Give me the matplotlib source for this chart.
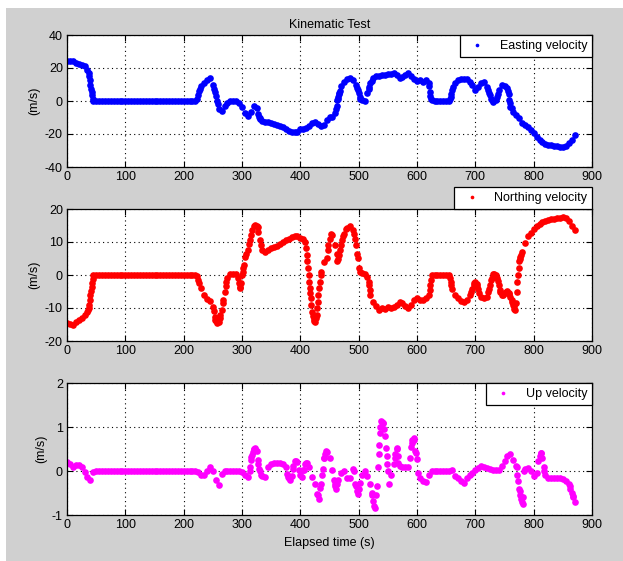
import numpy as np
import matplotlib
matplotlib.use("Agg")
import matplotlib.pyplot as plt
from matplotlib.patches import Rectangle

# sample times (s), one reading every 5 s
time_s = np.arange(0, 875, 5)

east = [24.5, 24.3, 24, 23, 22.3, 22, 21.5, 19, 10, 0] + [0] * 35 + [
    3.7, 9, 11, 13, 14, 10, 3, -5, -6, -3, -1, 0, 0, 0, -1.3, -3.4, -7, -9, -6.5, -3.3,
    -4.4, -10.4, -12.4, -12.8, -13, -13.4, -13.8, -14.4, -15, -15.8, -17, -17.9, -18.5, -18.7, -18.5,
    -17, -16.8, -16.2, -15, -13.5, -12.6, -14, -15.4, -14.4, -11.4, -9.8, -9.4, -7.2, 2.5, 8.8,
    11.8, 13.2, 14, 12.8, 9.8, 4.6, 0.6, 0.2, 4.6, 10.7, 14, 15, 15, 15.6, 16, 16.2, 16.5, 16.7,
    15.6, 13.7, 14.4, 15.7, 16.7, 15.1, 13.1, 12.3, 12.7, 11.7, 12.7, 10.7, 0.6] + [0] * 6 + [
    6.7, 10.7, 12.7, 13.2, 13.3, 13.1, 11.7, 9.7, 6.7, 8.7, 11.1, 11.7, 8.7, 3.6, -0.4, 0.6,
    6.7, 9.7, 9.1, 7.7, -3.4, -6.5, -8.5, -10.5, -13.1, -14.5, -15.9, -17.5, -19.5, -21.9,
    -23.9, -25, -25.9, -26.5, -26.9, -27.1, -27.5, -28, -28, -27.1, -25.5, -23.5, -20.5]

# extra readings on the steep parts
east_xt = [37, 38, 39, 41, 42, 43, 44, 222, 227, 228, 252, 253, 257, 258, 328, 329, 331,
           461, 462, 463, 464, 466, 467, 468, 497, 498, 502, 503, 517, 518, 522,
           621, 622, 623, 624, 657, 658, 659, 662, 722, 723, 727, 728, 737, 738,
           756, 757, 758, 759, 762]
east_xv = [17, 15, 12.5, 7.5, 5.5, 3.7, 1.5, 1, 6, 7.5, 7, 5.5, 0, -2, -8, -9.5, -11,
           -5, -3, 0.5, 1.5, 4, 4.7, 6, 8, 6.5, 2.5, 1.5, 7, 8.5, 12,
           9, 5.7, 3, 1.5, 1.2, 2.6, 4.5, 8.5, 6.5, 5, 1.5, 0.5, 2.5, 4.5,
           6, 4, 0.6, -1.5, -4.5]

north = [-14.6, -14.9, -15, -14.1, -13.6, -13.1, -12.1, -11.1, -6, 0] + [0] * 35 + [
    -1.5, -4, -6, -7.2, -8, -9.6, -13.8, -14.1, -10.5, -5, -1, 0.2, 0.2, 0.2, -2.5, 0, 5.6,
    7.6, 12.2, 14.8, 14.8, 10.7, 7.6, 7.1, 7.6, 8.2, 8.5, 8.9, 9.4, 10, 10.5, 11, 11.5, 11.9,
    11.7, 11.2, 10.8, 8.2, -2, -11.2, -14.1, -8.1, 0, 3.9, 5.1, 11, 12, 9.2, 5, 9.2, 12.5,
    14.2, 14.8, 13.5, 9.2, 2, 0.5, 0.2, -0.5, -6.1, -8.1, -9.3, -10.7, -9.9, -10.3, -9.6,
    -10.1, -9.6, -9.1, -8.1, -8.6, -9.3, -9.9, -9.1, -7.5, -7.0, -7.5, -7.5, -7.0, -6, 0] + [0] * 6 + [
    -4.1, -6.1, -7.1, -7.9, -8.3, -7.6, -6, -4.1, -2.2, -4.1, -6.6, -7.1, -6.6, -3, 0.2, 0,
    -3, -6.1, -5.6, -4.9, -6.6, -9.1, -8.5, 4.1, 7.1, 9.7, 11.7, 12.7, 13.8, 14.8, 15.5,
    16.1, 16.5, 16.8, 17, 17.1, 17.3, 17.3, 17.7, 17.3, 16.3, 14.8, 13.5]

north_xt = [36, 37, 38, 39, 41, 42, 43, 44, 222, 227, 252, 253, 254, 257, 262, 263, 267, 268,
            272, 273, 293, 296, 297, 298, 301, 302, 303, 307, 312, 313, 317, 322, 327, 328, 332,
            408, 411, 412, 413, 414, 416, 417, 418, 419, 422, 423, 424, 427, 428, 429, 431,
            432, 433, 436, 447, 448, 452, 462, 463, 466, 468, 472, 473, 478, 492, 493, 497,
            498, 502, 517, 518, 519, 622, 623, 624, 657, 658, 659,
            692, 697, 698, 702, 703, 707, 722, 723, 727, 728, 732, 737, 738, 742, 743, 747,
            752, 757, 758, 762, 763,
            766, 767, 768, 771, 772, 773, 774, 776, 777, 778]
north_xv = [-10.5, -10, -9.1, -7.5, -4.8, -3.5, -2.5, -1.2, -0.3, -2.5, -11, -12.6, -13.5,
            -14.6, -13, -12.1, -8.6, -7.5, -3.2, -2, -1, -3.5, -3.8, -2.5, 1, 2, 3, 6.5, 9.5,
            10.6, 13.7, 15.2, 14.4, 13, 9,
            10, 6, 4.1, 2, 0, -4, -5.5, -7.1, -9.2, -12.5, -13.3, -14, -13, -12.2, -10, -6,
            -4, -2, 1, 7.5, 9.2, 12.4, 6.5, 4.1, 6.1, 7.5, 10.5, 11.7, 13.8, 12.3, 11, 6.5,
            5.1, 1, -2, -3, -4.5, -4.5, -3, -1.5, -1, -2, -3,
            -5.3, -3, -2.5, -2.8, -3.3, -5.5, -5, -4.2, -1.5, -0.8, 0.3, -1, -1.8, -4.5, -5.2,
            -6, -5.3, -5.5, -5.8, -7.5, -8.3,
            -9.5, -10.2, -10.7, -5, -2, 0, 2, 5, 5.6, 6.1]

up = [0.2, 0.15, 0.1, 0.13, 0.13, 0.1, -0.02, -0.14, -0.2, -0.03] + [0] * 35 + [
    -0.02, -0.08, -0.1, 0, 0.09, 0, -0.2, -0.32, -0.06, 0, 0, 0, 0, 0, 0, -0.02, -0.1, -0.14,
    0.24, 0.5, 0.45, 0, -0.12, -0.13, 0.09, 0.17, 0.18, 0.18, 0.18, 0.17, 0.1, -0.17, -0.12,
    0.23, 0.2, -0.1, 0.02, 0.18, 0.08, -0.14, -0.3, -0.55, -0.3, 0.3, 0.43, 0.3, 0.02, -0.35,
    -0.2, -0.05, 0, -0.15, -0.15, 0.05, -0.35, -0.4, -0.1, 0, -0.12, -0.3, -0.68, -0.55, 0.6,
    1.12, 0.8, 0.0, -0.08, 0.15, 0.5, 0.12, 0.08, 0.08, 0.1, 0.55, 0.7, 0.27, -0.15, -0.22,
    -0.25, -0.1] + [0] * 7 + [
    0.03, -0.12, -0.16, -0.23, -0.27, -0.17, -0.1, -0.04, 0.03, 0.07, 0.12, 0.1, 0.07, 0.05,
    0.02, 0.02, 0.03, 0.12, 0.22, 0.35, 0.38, 0.25, 0.12, -0.4, -0.7, 0.05, 0.06, 0.0, -0.12,
    -0.04, 0.35, 0.3, -0.08, -0.15, -0.15, -0.15, -0.16, -0.17, -0.18, -0.22, -0.3, -0.5, -0.7]

up_xt = [313, 314, 316, 317, 318, 321, 322, 323, 327, 328, 329, 332, 377, 378, 381, 382, 387,
         388, 392, 398, 403, 406, 408, 412, 428, 432, 434, 437, 438, 440, 442, 444, 458, 459,
         461, 463, 492, 494, 497, 498, 502, 522, 523, 527, 528, 531, 533, 534, 536, 537, 538,
         541, 542, 544, 547, 548, 549, 552, 562, 563, 566, 567, 568, 588, 591, 592, 594, 597,
         598, 602, 771, 772, 773, 776, 777, 779, 781, 782, 783, 808, 812, 813, 817, 818,
         862, 863, 867, 868]
up_xv = [0, 0.1, 0.32, 0.36, 0.43, 0.51, 0.53, 0.5, 0.24, 0.15, 0.05, -0.1, -0.06, -0.14,
         -0.17, -0.21, 0.05, 0.12, 0.23, 0.02, -0.14, 0.02, 0.15, 0.18, -0.53, -0.64, -0.38,
         -0.1, 0.04, 0.3, 0.38, 0.45, -0.2, -0.3, -0.42, -0.3, 0, -0.3, -0.45, -0.53, -0.27,
         -0.49, -0.55, -0.8, -0.83, -0.34, 0.08, 0.38, 0.87, 1.0, 1.14, 1.1, 1.08, 0.95, 0.53,
         0.35, 0.15, -0.3, 0.3, 0.38, 0.53, 0.35, 0.19, 0.3, 0.64, 0.7, 0.76, 0.45, 0.4, -0.05,
         0.08, -0.1, -0.23, -0.45, -0.55, -0.64, -0.76, -0.6, 0, 0.23, 0.42, 0.4, 0.08, 0,
         -0.35, -0.42, -0.57, -0.6]

W, H = 623, 561
plt.rcParams['font.family'] = ['Liberation Sans', 'DejaVu Sans']
plt.rcParams['font.size'] = 9
plt.rcParams['axes.unicode_minus'] = False

fig = plt.figure(figsize=(W / 100, H / 100), dpi=100, facecolor='white')
fig.patches.append(Rectangle((6 / W, 0), 1 - 6 / W, 1 - 8 / H, transform=fig.transFigure,
                             facecolor='#d0d0d0', edgecolor='none', zorder=-10))

panels = [
    (east, east_xt, east_xv, 'Easting velocity', '#0000ff', (-40, 40), [-40, -20, 0, 20, 40], 35),
    (north, north_xt, north_xv, 'Northing velocity', '#ff0000', (-20, 20), [-20, -10, 0, 10, 20], 209),
    (up, up_xt, up_xv, 'Up velocity', '#ff00ff', (-1, 2), [-1, 0, 1, 2], 383),
]

axes = []
for vals, xt, xv, name, col, ylim, yt, top in panels:
    ax = fig.add_axes([67 / W, (H - top - 132) / H, 525 / W, 132 / H])
    ax.set_facecolor('white')
    tt = np.concatenate([time_s[:len(vals)], xt])
    vv = np.concatenate([vals, xv])
    ax.plot(tt, vv, linestyle='none', marker='o', markersize=4.8,
            markeredgewidth=0, color=col, label=name)
    ax.set_xlim(0, 900)
    ax.set_ylim(*ylim)
    ax.set_xticks(range(0, 901, 100))
    ax.set_yticks(yt)
    ax.grid(True, linestyle=(0, (1, 3)), color='black', linewidth=0.8)
    ax.tick_params(direction='in', top=True, right=True, length=4, labelsize=9, pad=3)
    ax.set_ylabel('(m/s)', fontsize=9, labelpad=3)
    for s in ax.spines.values():
        s.set_linewidth(0.9)
    axes.append(ax)

leg_kw = dict(frameon=True, fancybox=False, edgecolor='black', framealpha=1,
              handlelength=2.0, handletextpad=0.8, borderaxespad=0, fontsize=9,
              markerscale=0.55)
l1 = axes[0].legend(loc='upper right', bbox_to_anchor=(1, 1), **leg_kw)
l2 = axes[1].legend(loc='lower right', bbox_to_anchor=(1, 1), **leg_kw)
l3 = axes[2].legend(loc='upper right', bbox_to_anchor=(1, 1), **leg_kw)
for lg in (l1, l2, l3):
    lg.get_frame().set_linewidth(0.9)

axes[0].set_title('Kinematic Test', fontsize=9, pad=5)
axes[2].set_xlabel('Elapsed time (s)', fontsize=9, labelpad=4)

fig.savefig('out.png', dpi=100, facecolor=fig.get_facecolor())
